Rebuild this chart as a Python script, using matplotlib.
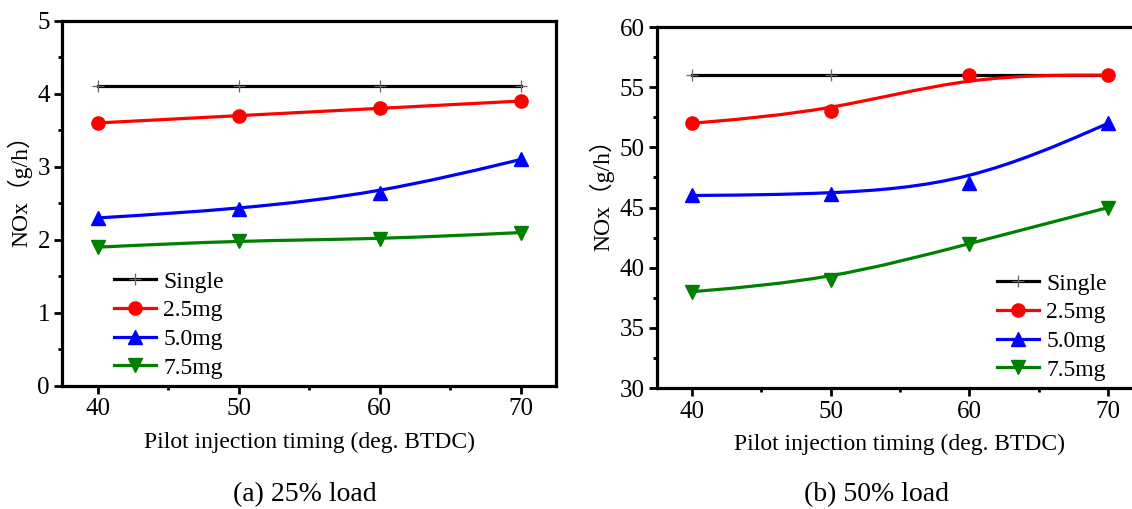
import numpy as np
import matplotlib
matplotlib.use('Agg')
import matplotlib.pyplot as plt
from matplotlib.path import Path
from matplotlib.patches import PathPatch
from matplotlib.lines import Line2D
from matplotlib.ticker import MultipleLocator

plt.rcParams['font.family'] = ['Liberation Serif', 'Noto Sans CJK SC']
plt.rcParams['font.size'] = 17

timing = [40, 50, 60, 70]
labels = ['Single', '2.5mg', '5.0mg', '7.5mg']

# (a) 25% load
a_single = [4.1, 4.1, 4.1, 4.1]
a_25 = [3.6, 3.7, 3.8, 3.9]
a_50 = [2.3, 2.42, 2.64, 3.1]
a_75 = [1.9, 1.99, 2.01, 2.1]

# (b) 50% load
b_single = [56, 56, 56, 56]
b_25 = [52, 53, 56, 56]
b_50 = [46, 46.1, 47, 52]
b_75 = [38, 39, 42, 45]

colors = ['black', '#ff0000', '#0000ff', '#008000']
markers = ['+', 'o', '^', 'v']


def bspline_patch(ax, x, y, color):
    # clamped uniform cubic B-spline (Origin style smoothing), drawn as bezier segments
    pts = np.column_stack([x, y]).astype(float)
    q = np.vstack([pts[0], pts[0], pts, pts[-1], pts[-1]])
    verts = []
    codes = []
    for i in range(len(q) - 3):
        A, B, C, D = q[i], q[i + 1], q[i + 2], q[i + 3]
        b0 = (A + 4 * B + C) / 6
        b1 = (2 * B + C) / 3
        b2 = (B + 2 * C) / 3
        b3 = (B + 4 * C + D) / 6
        if i == 0:
            verts.append(b0)
            codes.append(Path.MOVETO)
        verts += [b1, b2, b3]
        codes += [Path.CURVE4] * 3
    ax.add_patch(PathPatch(Path(verts, codes), facecolor='none', edgecolor=color, lw=2.3, zorder=2))


def draw(ax, series, ylim, ystep, yminor):
    for i, s in enumerate(series):
        if i == 0:
            ax.plot(timing, s, color='black', lw=2.3, zorder=2)
            ax.plot(timing, s, linestyle='none', marker='+', markersize=9,
                    markeredgewidth=0.9, markeredgecolor='#666666', zorder=3)
        else:
            bspline_patch(ax, timing, s, colors[i])
            ax.plot(timing, s, linestyle='none', marker=markers[i], markersize=9.5,
                    color=colors[i], zorder=3)
    ax.set_xlim(37.5, 72.5)
    ax.set_ylim(*ylim)
    ax.set_xticks(timing)
    ax.xaxis.set_minor_locator(MultipleLocator(5))
    ax.yaxis.set_major_locator(MultipleLocator(ystep))
    ax.yaxis.set_minor_locator(MultipleLocator(yminor))
    ax.tick_params(which='major', direction='out', length=6, width=2, pad=3, labelsize=18)
    ax.tick_params(which='minor', direction='out', length=3, width=2)
    for sp in ax.spines.values():
        sp.set_linewidth(2.3)
    ax.set_xlabel('Pilot injection timing (deg. BTDC)', labelpad=8)
    ax.set_ylabel('NOx（g/h）', labelpad=4)
    # label sits a bit above the middle of the axis
    ax.yaxis.label.set_y(0.55)


handles = []
for i in range(4):
    if i == 0:
        handles.append(Line2D([], [], color='black', lw=2.3, marker='+', markersize=9,
                              markeredgewidth=0.9, markeredgecolor='#666666'))
    else:
        handles.append(Line2D([], [], color=colors[i], lw=2.3, marker=markers[i], markersize=9.5))

fig = plt.figure(figsize=(11.32, 5.09), dpi=100)
ax1 = fig.add_axes([0.0552, 0.2417, 0.436, 0.7177])
ax2 = fig.add_axes([0.5804, 0.2377, 0.4293, 0.7092])

draw(ax1, [a_single, a_25, a_50, a_75], (0, 5), 1, 0.5)
draw(ax2, [b_single, b_25, b_50, b_75], (30, 60), 5, 2.5)

ax1.legend(handles, labels, loc='lower left', bbox_to_anchor=(0.07, -0.025), frameon=False,
           handlelength=1.8, handletextpad=0.3, labelspacing=0.3, borderpad=0.2)
ax2.legend(handles, labels, loc='lower right', bbox_to_anchor=(0.96, -0.025), frameon=False,
           handlelength=1.8, handletextpad=0.3, labelspacing=0.3, borderpad=0.2)

fig.text(0.2694, 0.029, '(a) 25% load', ha='center', va='center', fontsize=20)
fig.text(0.774, 0.029, '(b) 50% load', ha='center', va='center', fontsize=20)

fig.savefig('out.png', dpi=100)
